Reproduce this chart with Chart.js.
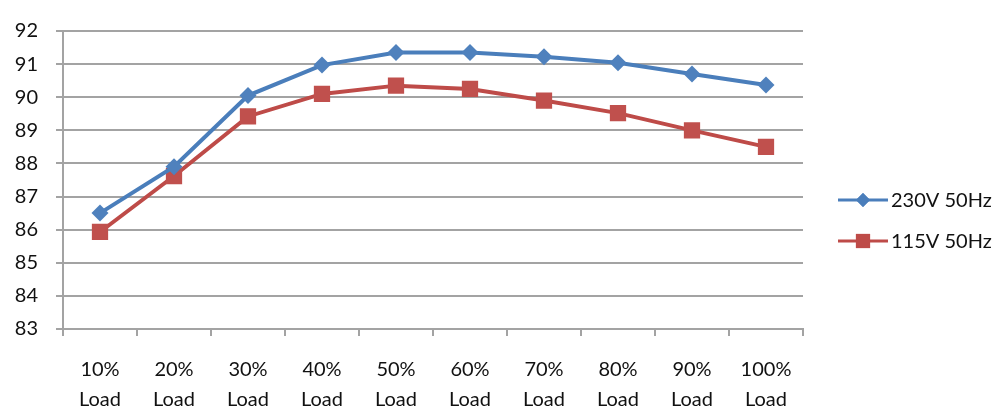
<!DOCTYPE html>
<html>
<head>
<meta charset="utf-8">
<style>
  html, body { margin: 0; padding: 0; background: #ffffff; }
  #wrap { width: 1002px; height: 416px; }
</style>
<script src="https://cdn.jsdelivr.net/npm/chart.js@4/dist/chart.umd.min.js"></script>
</head>
<body>
<div id="wrap"><canvas id="c" width="1002" height="416"></canvas></div>
<script>
// Efficiency (%) at each load step
const loadLabels = [
  ['10%', 'Load'], ['20%', 'Load'], ['30%', 'Load'], ['40%', 'Load'], ['50%', 'Load'],
  ['60%', 'Load'], ['70%', 'Load'], ['80%', 'Load'], ['90%', 'Load'], ['100%', 'Load']
];
const series230 = [86.5, 87.9, 90.05, 90.97, 91.35, 91.35, 91.22, 91.04, 90.7, 90.37];
const series115 = [85.93, 87.62, 89.42, 90.1, 90.35, 90.25, 89.9, 89.52, 89.0, 88.5];
const seriesNames = ['230V 50Hz', '115V 50Hz'];
const yTicks = [83, 84, 85, 86, 87, 88, 89, 90, 91, 92];

const BLUE = '#4A7EBB';
const RED = '#BE4B48';
const FONT = 'Lato, "Open Sans", sans-serif';
const TEXT = '#111111';
const GRID = '#a3a3a3';

// Legend on the right: a short line with the series marker, then the name
const sideLegend = {
  id: 'sideLegend',
  afterDraw(chart) {
    const ctx = chart.ctx;
    const rows = [
      { name: seriesNames[0], color: BLUE, style: 'rectRot', r: 7, y: 200 },
      { name: seriesNames[1], color: RED, style: 'rect', r: 10, y: 241 }
    ];
    ctx.save();
    rows.forEach(row => {
      ctx.strokeStyle = row.color;
      ctx.lineWidth = 3;
      ctx.beginPath();
      ctx.moveTo(838, row.y);
      ctx.lineTo(888, row.y);
      ctx.stroke();
      ctx.fillStyle = row.color;
      Chart.helpers.drawPoint(ctx, { pointStyle: row.style, radius: row.r, borderWidth: 0 }, 863, row.y);
      ctx.fill();
      ctx.fillStyle = TEXT;
      ctx.font = '20px ' + FONT;
      ctx.textAlign = 'left';
      ctx.textBaseline = 'middle';
      ctx.fillText(row.name, 891, row.y + 1);
    });
    ctx.restore();
  }
};

new Chart(document.getElementById('c'), {
  type: 'line',
  data: {
    labels: loadLabels,
    datasets: [
      {
        label: seriesNames[0],
        data: series230,
        borderColor: BLUE,
        backgroundColor: BLUE,
        borderWidth: 4,
        pointStyle: 'rectRot',
        pointRadius: 8.5,
        pointBorderWidth: 0,
        pointBackgroundColor: '#4F81BD',
        tension: 0
      },
      {
        label: seriesNames[1],
        data: series115,
        borderColor: RED,
        backgroundColor: RED,
        borderWidth: 4,
        pointStyle: 'rect',
        pointRadius: 11.5,
        pointBorderWidth: 0,
        pointBackgroundColor: '#C0504D',
        tension: 0
      }
    ]
  },
  options: {
    responsive: false,
    devicePixelRatio: 1,
    animation: false,
    layout: { padding: { top: 31, right: 199, left: 0, bottom: 0 } },
    plugins: {
      legend: { display: false },
      tooltip: { enabled: false }
    },
    scales: {
      x: {
        type: 'category',
        offset: true,
        grid: {
          display: true,
          offset: true,
          drawOnChartArea: false,
          drawTicks: true,
          tickLength: 7,
          color: GRID,
          lineWidth: 2
        },
        border: { display: true, color: GRID, width: 2 },
        ticks: {
          color: TEXT,
          font: { family: FONT, size: 20, lineHeight: 1.5 },
          padding: 19,
          maxRotation: 0,
          autoSkip: false
        },
        afterFit(scale) { scale.height = 87; }
      },
      y: {
        min: yTicks[0],
        max: yTicks[yTicks.length - 1],
        afterBuildTicks(scale) { scale.ticks = yTicks.map(v => ({ value: v })); },
        grid: {
          color: GRID,
          lineWidth: 2,
          drawTicks: true,
          tickLength: 7
        },
        border: { display: true, color: GRID, width: 2 },
        ticks: {
          color: TEXT,
          font: { family: FONT, size: 20 },
          padding: 18
        },
        afterFit(scale) { scale.width = 63; }
      }
    }
  },
  plugins: [sideLegend]
});
</script>
</body>
</html>
